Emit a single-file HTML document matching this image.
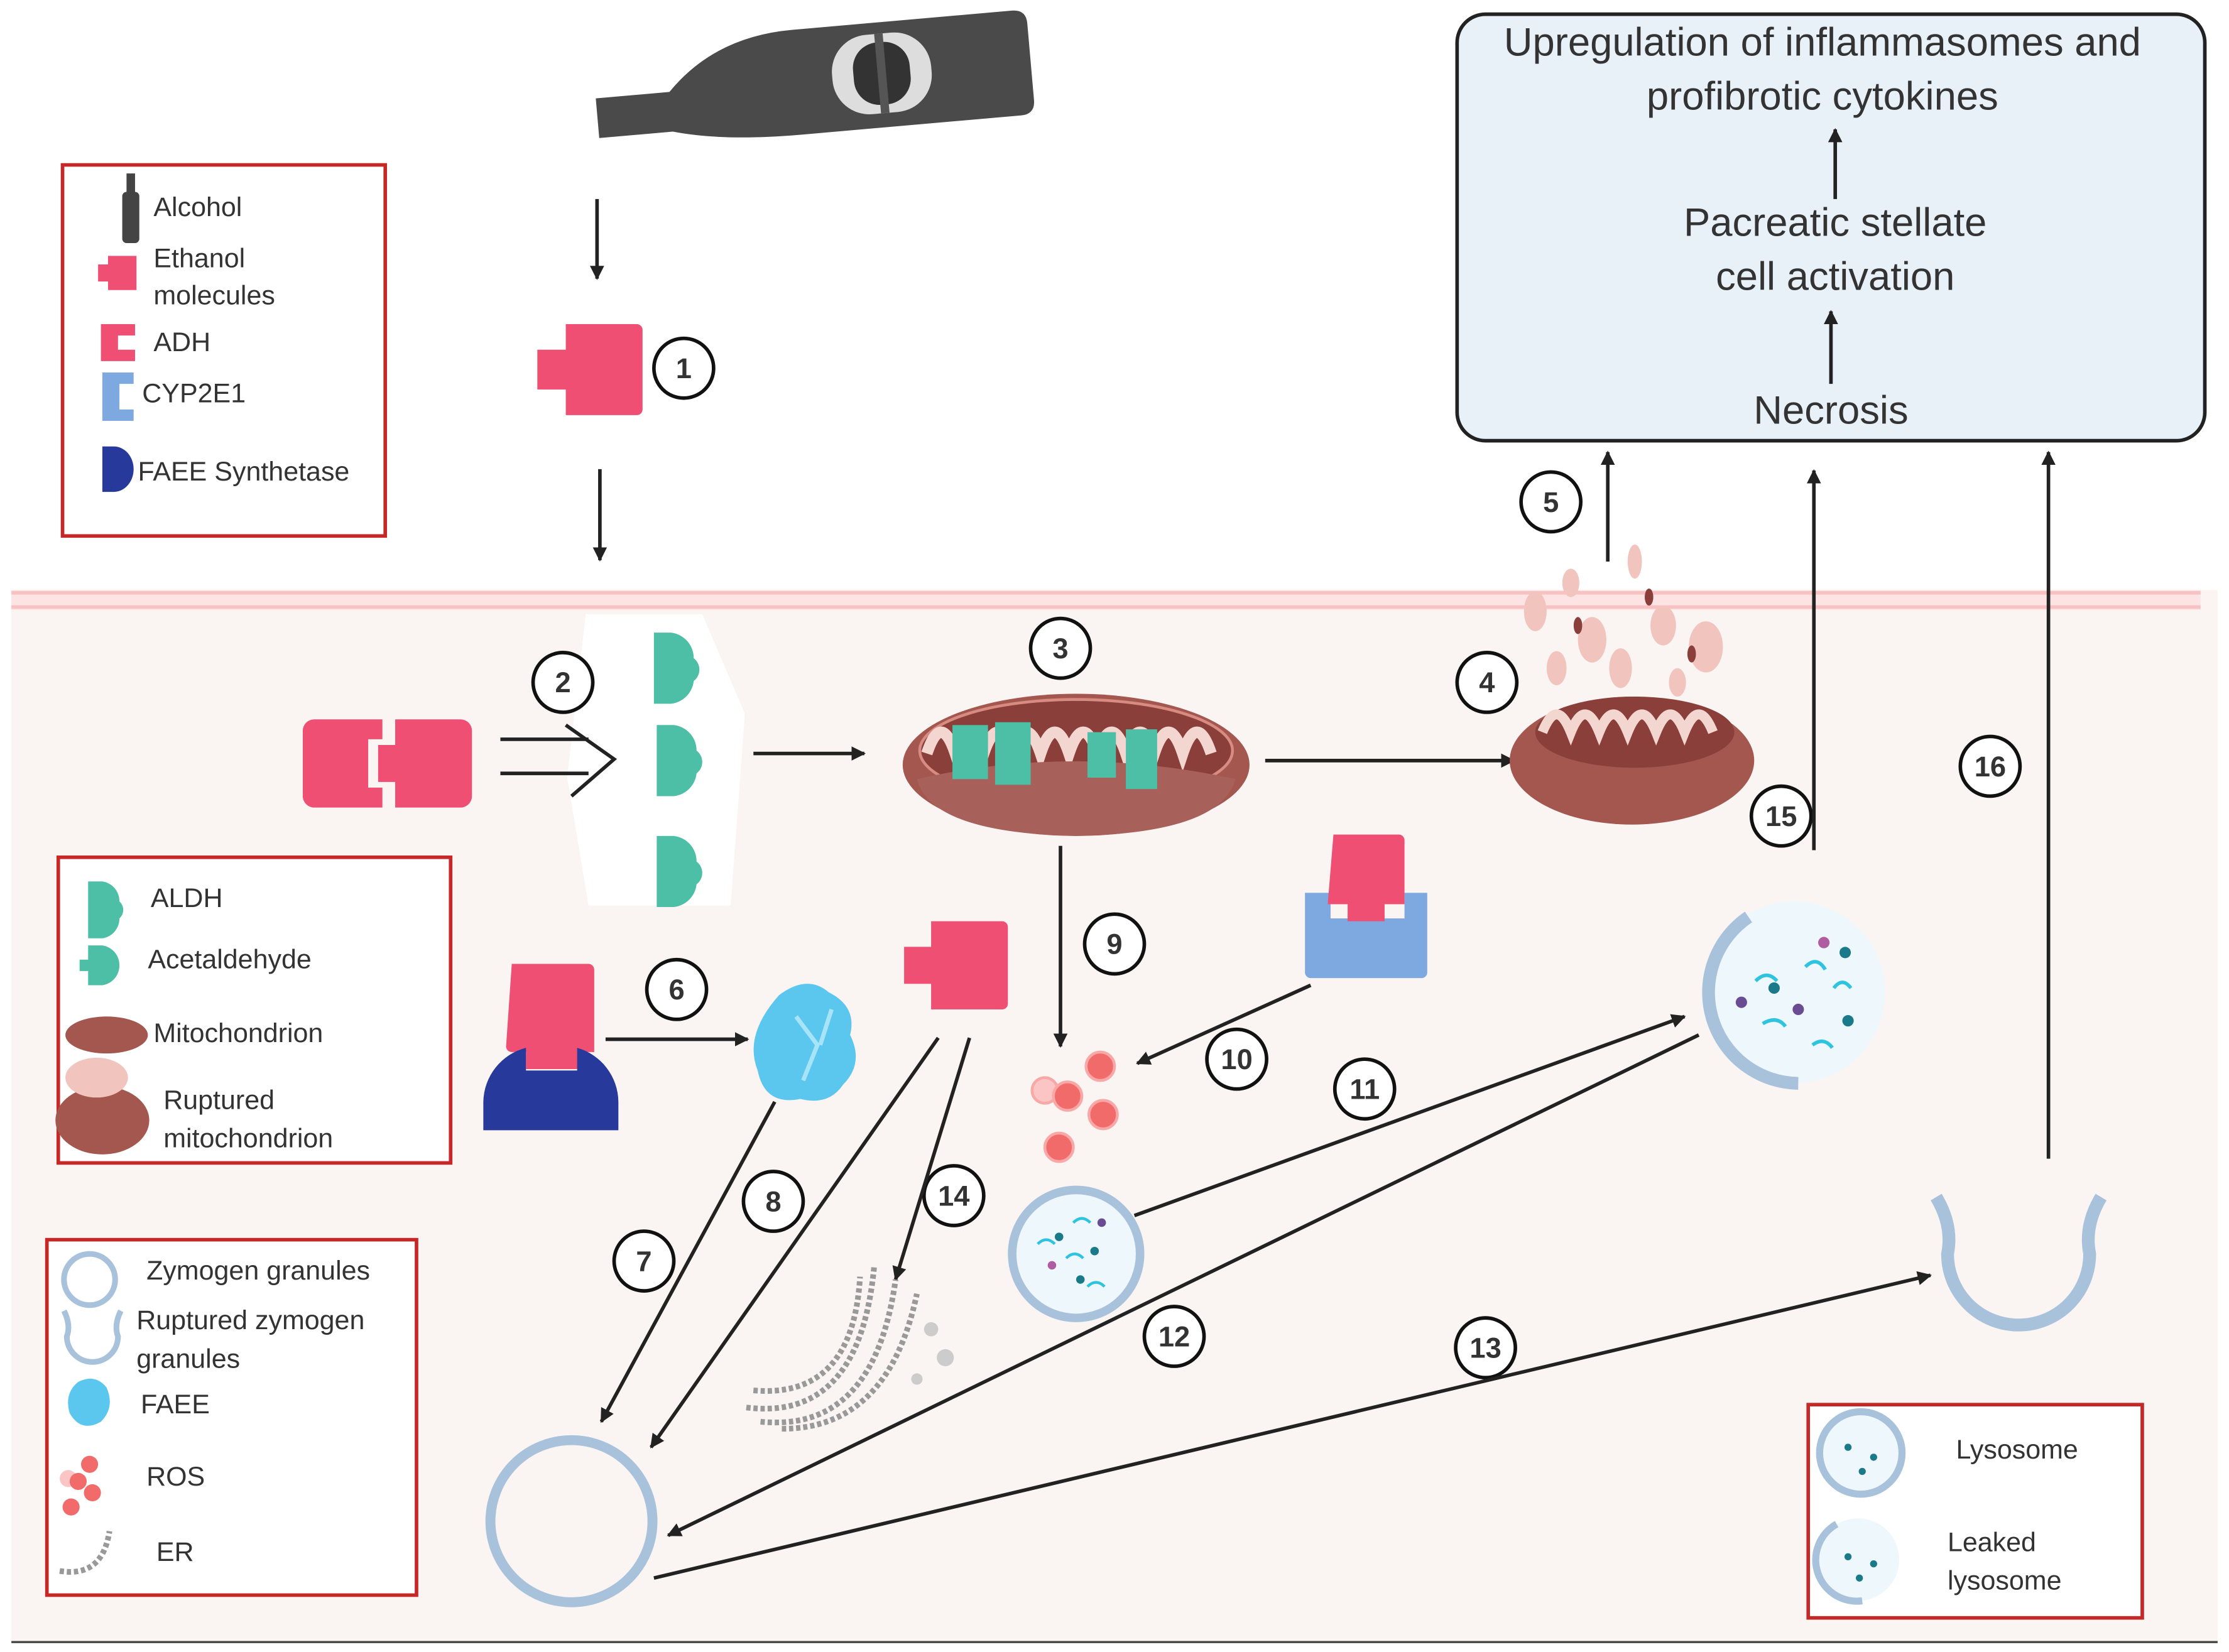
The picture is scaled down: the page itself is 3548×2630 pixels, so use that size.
<!DOCTYPE html>
<html><head><meta charset="utf-8"><style>
html,body{margin:0;padding:0;background:#fff;}
svg{display:block;}
text{font-family:"Liberation Sans",sans-serif;fill:#333;}
</style></head><body>
<svg width="3548" height="2630" viewBox="0 0 1568 1162" preserveAspectRatio="none" xmlns="http://www.w3.org/2000/svg">
<defs>
<marker id="ah" markerWidth="10" markerHeight="10" refX="9" refY="5" orient="auto" markerUnits="userSpaceOnUse">
<path d="M0,0 L10,5 L0,10 z" fill="#222"/></marker>
</defs>
<rect width="1568" height="1162" fill="#fff"/>
<rect x="8" y="415" width="1552" height="740" fill="#faf4f2"/>
<rect x="8" y="415" width="1540" height="14" fill="#fde4e4"/>
<line x1="8" y1="417" x2="1548" y2="417" stroke="#f8c2c2" stroke-width="2.5"/>
<line x1="8" y1="427" x2="1548" y2="427" stroke="#f8c2c2" stroke-width="2.5"/>
<line x1="8" y1="1155" x2="1560" y2="1155" stroke="#444" stroke-width="1.5"/>

<!-- bottle -->
<g transform="rotate(-5 570 50)">
<path d="M418,58 L418,84 L470,84 Q505,94 560,94 L715,94 Q725,94 725,84 L725,30 Q725,20 715,20 L560,20 Q505,20 470,56 L418,56 z" fill="#4a4a4a"/>
<rect x="585" y="28" width="70" height="56" rx="26" fill="#ddd"/>
<rect x="600" y="34" width="40" height="44" rx="18" fill="#333"/>
<rect x="617" y="28" width="6" height="56" fill="#555"/>
</g>

<rect x="44" y="116" width="227" height="261" fill="#fff" stroke="#c62828" stroke-width="2.5"/>
<rect x="86" y="135" width="12" height="36" rx="3" fill="#444"/><rect x="89" y="122" width="6" height="15" fill="#444"/>
<path d="M76,180 h20 v24 h-20 v-6 h-7 v-12 h7z" fill="#ee4f72"/>
<path d="M71,228 h24 v8 h-12 v10 h12 v8 h-24z" fill="#ee4f72"/>
<path d="M72,262 h22 v8 h-10 v18 h10 v8 h-22z" fill="#7ea8e0"/>
<path d="M72,314 h8 a14,16 0 0 1 0,32 h-8 z" fill="#27399a"/>
<g font-size="19">
<text x="108" y="152">Alcohol</text>
<text x="108" y="188">Ethanol</text>
<text x="108" y="214">molecules</text>
<text x="108" y="247">ADH</text>
<text x="100" y="283">CYP2E1</text>
<text x="97" y="338">FAEE Synthetase</text>
</g>

<line x1="420" y1="140" x2="420" y2="196" stroke="#222" stroke-width="2.5" marker-end="url(#ah)"/>
<line x1="422" y1="330" x2="422" y2="394" stroke="#222" stroke-width="2.5" marker-end="url(#ah)"/>
<path d="M398,228 h50 a4,4 0 0 1 4,4 v56 a4,4 0 0 1 -4,4 h-50 v-18 h-20 v-28 h20z" fill="#ee4f72"/>

<!-- white blob + step 2 -->
<path d="M412,432 h82 l30,70 l-10,135 h-100 l-15,-90z" fill="#fff"/>
<path d="M213,514 a8,8 0 0 1 8,-8 h48 v14 h-10 v34 h10 v14 h-48 a8,8 0 0 1 -8,-8z" fill="#ee4f72"/>
<path d="M278,506 h46 a8,8 0 0 1 8,8 v46 a8,8 0 0 1 -8,8 h-46 v-18 h-12 v-26 h12z" fill="#ee4f72"/>
<path d="M352,520 h62 M352,544 h62 M398,510 l34,24 l-30,26" stroke="#222" stroke-width="2.5" fill="none"/>
<g fill="#4cbfa6">
<path d="M460,445 h12 a18,18 0 0 1 16,18 a10,10 0 0 1 0,16 a18,18 0 0 1 -16,16 h-12z"/>
<path d="M462,510 h12 a18,18 0 0 1 16,18 a10,10 0 0 1 0,16 a18,18 0 0 1 -16,16 h-12z"/>
<path d="M462,588 h12 a18,18 0 0 1 16,18 a10,10 0 0 1 0,16 a18,18 0 0 1 -16,16 h-12z"/>
</g>

<g fill="#fff" stroke="#111" stroke-width="2.5">
<circle cx="481" cy="259" r="21"/><circle cx="396" cy="480" r="21"/><circle cx="746" cy="456" r="21"/>
<circle cx="1046" cy="480" r="21"/><circle cx="1091" cy="353" r="21"/><circle cx="476" cy="696" r="21"/>
<circle cx="453" cy="887" r="21"/><circle cx="544" cy="845" r="21"/><circle cx="784" cy="664" r="21"/>
<circle cx="870" cy="745" r="21"/><circle cx="960" cy="766" r="21"/><circle cx="826" cy="940" r="21"/>
<circle cx="1045" cy="948" r="21"/><circle cx="671" cy="841" r="21"/><circle cx="1253" cy="574" r="21"/>
<circle cx="1400" cy="539" r="21"/>
</g>
<g font-size="20" font-weight="bold" text-anchor="middle">
<text x="481" y="266">1</text><text x="396" y="487">2</text><text x="746" y="463">3</text>
<text x="1046" y="487">4</text><text x="1091" y="360">5</text><text x="476" y="703">6</text>
<text x="453" y="894">7</text><text x="544" y="852">8</text><text x="784" y="671">9</text>
<text x="870" y="752">10</text><text x="960" y="773">11</text><text x="826" y="947">12</text>
<text x="1045" y="955">13</text><text x="671" y="848">14</text><text x="1253" y="581">15</text>
<text x="1400" y="546">16</text>
</g>

<rect x="1025" y="10" width="526" height="300" rx="20" fill="#e8f0f8" stroke="#222" stroke-width="2.5"/>
<g font-size="28" text-anchor="middle">
<text x="1282" y="39">Upregulation of inflammasomes and</text>
<text x="1282" y="77">profibrotic cytokines</text>
<text x="1291" y="166">Pacreatic stellate</text>
<text x="1291" y="204">cell activation</text>
<text x="1288" y="298">Necrosis</text>
</g>
<line x1="1291" y1="140" x2="1291" y2="91" stroke="#222" stroke-width="2.5" marker-end="url(#ah)"/>
<line x1="1288" y1="270" x2="1288" y2="219" stroke="#222" stroke-width="2.5" marker-end="url(#ah)"/>

<line x1="530" y1="530" x2="608" y2="530" stroke="#222" stroke-width="2.5" marker-end="url(#ah)"/>

<ellipse cx="757" cy="538" rx="122" ry="50" fill="#a3574f"/>
<ellipse cx="757" cy="528" rx="110" ry="36" fill="#8b3f3a" stroke="#d88b80" stroke-width="2"/>
<path d="M652,530 q10,-30 20,0 q10,-30 20,0 q10,-30 20,0 q10,-30 20,0 q10,-30 20,0 q10,-30 20,0 q10,-30 20,0 q10,-30 20,0 q10,-30 20,0 q10,-30 20,0" stroke="#f4d6d0" stroke-width="8" fill="none"/>
<path d="M645,548 q110,-25 224,0 q-10,38 -112,40 q-102,-2 -112,-40z" fill="#a8605a"/>
<g fill="#4cbfa6"><rect x="670" y="510" width="25" height="38"/><rect x="700" y="508" width="25" height="44"/><rect x="765" y="515" width="20" height="32"/><rect x="792" y="513" width="22" height="42"/></g>
<line x1="890" y1="535" x2="1065" y2="535" stroke="#222" stroke-width="2.5" marker-end="url(#ah)"/>

<ellipse cx="1148" cy="535" rx="86" ry="45" fill="#a3574f"/>
<ellipse cx="1150" cy="515" rx="70" ry="25" fill="#8b3f3a"/>
<path d="M1085,515 q10,-25 20,0 q10,-25 20,0 q10,-25 20,0 q10,-25 20,0 q10,-25 20,0 q10,-25 20,0" stroke="#f4d6d0" stroke-width="7" fill="none"/>
<g fill="#f1c5bd">
<ellipse cx="1080" cy="430" rx="8" ry="14"/><ellipse cx="1105" cy="410" rx="6" ry="10"/><ellipse cx="1150" cy="395" rx="5" ry="12"/>
<ellipse cx="1120" cy="450" rx="10" ry="16"/><ellipse cx="1170" cy="440" rx="9" ry="14"/><ellipse cx="1200" cy="455" rx="12" ry="18"/>
<ellipse cx="1095" cy="470" rx="7" ry="12"/><ellipse cx="1140" cy="470" rx="8" ry="14"/><ellipse cx="1180" cy="480" rx="6" ry="10"/>
</g>
<g fill="#8b3f3a"><ellipse cx="1110" cy="440" rx="3" ry="6"/><ellipse cx="1160" cy="420" rx="3" ry="6"/><ellipse cx="1190" cy="460" rx="3" ry="6"/></g>

<line x1="1131" y1="395" x2="1131" y2="318" stroke="#222" stroke-width="2.5" marker-end="url(#ah)"/>
<line x1="1276" y1="598" x2="1276" y2="331" stroke="#222" stroke-width="2.5" marker-end="url(#ah)"/>
<line x1="1441" y1="815" x2="1441" y2="318" stroke="#222" stroke-width="2.5" marker-end="url(#ah)"/>

<rect x="41" y="603" width="276" height="215" fill="#fff" stroke="#c62828" stroke-width="2.5"/>
<path d="M62,620 h10 a14,14 0 0 1 12,14 a8,8 0 0 1 0,12 a14,14 0 0 1 -12,14 h-10z" fill="#4cbfa6"/>
<path d="M62,665 h10 a14,14 0 0 1 12,14 a14,14 0 0 1 -12,14 h-10 v-10 h-6 v-8 h6z" fill="#4cbfa6"/>
<ellipse cx="75" cy="728" rx="29" ry="13" fill="#a3574f"/>
<ellipse cx="72" cy="788" rx="33" ry="24" fill="#a3574f"/><ellipse cx="68" cy="758" rx="22" ry="14" fill="#f1c5bd"/>
<g font-size="19">
<text x="106" y="638">ALDH</text>
<text x="104" y="681">Acetaldehyde</text>
<text x="108" y="733">Mitochondrion</text>
<text x="115" y="780">Ruptured</text>
<text x="115" y="807">mitochondrion</text>
</g>

<path d="M360,678 h54 a4,4 0 0 1 4,4 v58 h-10 v12 h-38 v-12 h-10 a4,4 0 0 1 -4,-4z" fill="#ee4f72"/>
<path d="M340,795 v-20 a40,40 0 0 1 30,-38 v16 h36 v-16 a40,40 0 0 1 29,38 v20z" fill="#27399a"/>
<line x1="426" y1="731" x2="526" y2="731" stroke="#222" stroke-width="2.5" marker-end="url(#ah)"/>
<path d="M548,700 q20,-15 35,-2 q20,10 15,30 q10,20 -5,35 q-10,15 -30,10 q-25,5 -30,-20 q-10,-25 15,-53z" fill="#5cc7ee"/>
<path d="M560,715 l15,20 l-10,25 M585,710 l-8,25" stroke="#a8e4f8" stroke-width="3" fill="none"/>

<path d="M655,648 h50 a4,4 0 0 1 4,4 v54 a4,4 0 0 1 -4,4 h-50 v-18 h-19 v-26 h19z" fill="#ee4f72"/>
<line x1="746" y1="595" x2="746" y2="736" stroke="#222" stroke-width="2.5" marker-end="url(#ah)"/>
<g fill="#f26b6b" stroke="#f9a8a8" stroke-width="2">
<circle cx="735" cy="767" r="9" fill="#fbc5c5"/><circle cx="751" cy="771" r="10"/><circle cx="774" cy="750" r="10"/><circle cx="776" cy="784" r="10"/><circle cx="745" cy="807" r="10"/>
</g>
<path d="M918,628 h18 v18 h52 v-18 h16 v56 a4,4 0 0 1 -4,4 h-78 a4,4 0 0 1 -4,-4z" fill="#7ea8e0"/>
<path d="M938,587 h46 a4,4 0 0 1 4,4 v45 h-14 v12 h-26 v-12 h-14z" fill="#ee4f72"/>
<line x1="922" y1="693" x2="800" y2="748" stroke="#222" stroke-width="2.5" marker-end="url(#ah)"/>

<circle cx="1262" cy="698" r="64" fill="#eef7fb"/>
<path d="M1230,645 a64,64 0 0 0 35,117" stroke="#a9c2dc" stroke-width="9" fill="none"/>
<g fill="#1a7a8a"><circle cx="1248" cy="695" r="4"/><circle cx="1298" cy="670" r="4"/><circle cx="1300" cy="718" r="4"/><circle cx="1265" cy="710" r="4" fill="#6a4c93"/><circle cx="1225" cy="705" r="4" fill="#6a4c93"/><circle cx="1283" cy="663" r="4" fill="#b05ca0"/></g>
<path d="M1235,690 q8,-8 15,0 M1270,680 q8,-8 14,2 M1240,720 q10,-6 16,2 M1275,735 q8,-6 14,2 M1290,695 q6,-8 12,0" stroke="#2ec4e0" stroke-width="2.5" fill="none"/>

<circle cx="757" cy="882" r="45" fill="#eef7fb" stroke="#a9c2dc" stroke-width="6"/>
<g fill="#1a7a8a"><circle cx="745" cy="870" r="3"/><circle cx="770" cy="880" r="3"/><circle cx="760" cy="900" r="3"/><circle cx="740" cy="890" r="3" fill="#b05ca0"/><circle cx="775" cy="860" r="3" fill="#6a4c93"/></g>
<path d="M730,875 q6,-6 12,0 M755,860 q6,-6 12,0 M750,885 q6,-6 12,0 M765,905 q6,-6 12,0" stroke="#2ec4e0" stroke-width="2" fill="none"/>

<line x1="798" y1="855" x2="1185" y2="715" stroke="#222" stroke-width="2.5" marker-end="url(#ah)"/>
<line x1="1195" y1="728" x2="470" y2="1080" stroke="#222" stroke-width="2.5" marker-end="url(#ah)"/>
<line x1="460" y1="1110" x2="1358" y2="897" stroke="#222" stroke-width="2.5" marker-end="url(#ah)"/>
<line x1="545" y1="775" x2="423" y2="1000" stroke="#222" stroke-width="2.5" marker-end="url(#ah)"/>
<line x1="660" y1="730" x2="458" y2="1018" stroke="#222" stroke-width="2.5" marker-end="url(#ah)"/>
<line x1="682" y1="730" x2="630" y2="900" stroke="#222" stroke-width="2.5" marker-end="url(#ah)"/>

<path d="M1362,842 q12,20 8,40 a50,50 0 0 0 100,0 q-4,-20 8,-40" stroke="#a9c2dc" stroke-width="9" fill="none"/>
<circle cx="402" cy="1070" r="57" fill="none" stroke="#a9c2dc" stroke-width="7"/>
<g fill="none" stroke="#999" stroke-width="4" stroke-dasharray="3 2">
<path d="M525,990 q80,10 90,-100"/><path d="M535,1000 q80,8 95,-100"/><path d="M550,1005 q75,0 95,-95"/><path d="M530,978 q70,6 75,-80"/>
</g>
<g fill="#ccc"><circle cx="655" cy="935" r="5"/><circle cx="665" cy="955" r="6"/><circle cx="645" cy="970" r="4"/></g>

<rect x="33" y="872" width="260" height="250" fill="#fff" stroke="#c62828" stroke-width="2.5"/>
<circle cx="63" cy="900" r="18" fill="none" stroke="#a9c2dc" stroke-width="4"/>
<path d="M45,922 q5,10 2,18 a18,18 0 0 0 36,0 q-3,-8 2,-18" stroke="#a9c2dc" stroke-width="4" fill="none"/>
<path d="M55,972 q12,-6 20,4 q6,14 -4,24 q-14,8 -22,-6 q-4,-14 6,-22z" fill="#5cc7ee"/>
<g fill="#f26b6b"><circle cx="48" cy="1040" r="6" fill="#fbc5c5"/><circle cx="55" cy="1042" r="6"/><circle cx="63" cy="1030" r="6"/><circle cx="65" cy="1050" r="6"/><circle cx="50" cy="1060" r="6"/></g>
<path d="M42,1105 q30,5 35,-28" stroke="#999" stroke-width="4" stroke-dasharray="3 2" fill="none"/>
<g font-size="19">
<text x="103" y="900">Zymogen granules</text>
<text x="96" y="935">Ruptured zymogen</text>
<text x="96" y="962">granules</text>
<text x="99" y="994">FAEE</text>
<text x="103" y="1045">ROS</text>
<text x="110" y="1098">ER</text>
</g>

<rect x="1272" y="988" width="235" height="150" fill="#fff" stroke="#c62828" stroke-width="2.5"/>
<circle cx="1309" cy="1022" r="29" fill="#eef7fb" stroke="#a9c2dc" stroke-width="5"/>
<circle cx="1307" cy="1097" r="29" fill="#eef7fb"/>
<path d="M1292,1072 a29,29 0 0 0 18,54" stroke="#a9c2dc" stroke-width="5" fill="none"/>
<g fill="#1a7a8a"><circle cx="1300" cy="1018" r="2.5"/><circle cx="1318" cy="1025" r="2.5"/><circle cx="1310" cy="1035" r="2.5"/><circle cx="1300" cy="1095" r="2.5"/><circle cx="1318" cy="1100" r="2.5"/><circle cx="1308" cy="1110" r="2.5"/></g>
<g font-size="19">
<text x="1376" y="1026">Lysosome</text>
<text x="1370" y="1091">Leaked</text>
<text x="1370" y="1118">lysosome</text>
</g>
</svg>
</body></html>
